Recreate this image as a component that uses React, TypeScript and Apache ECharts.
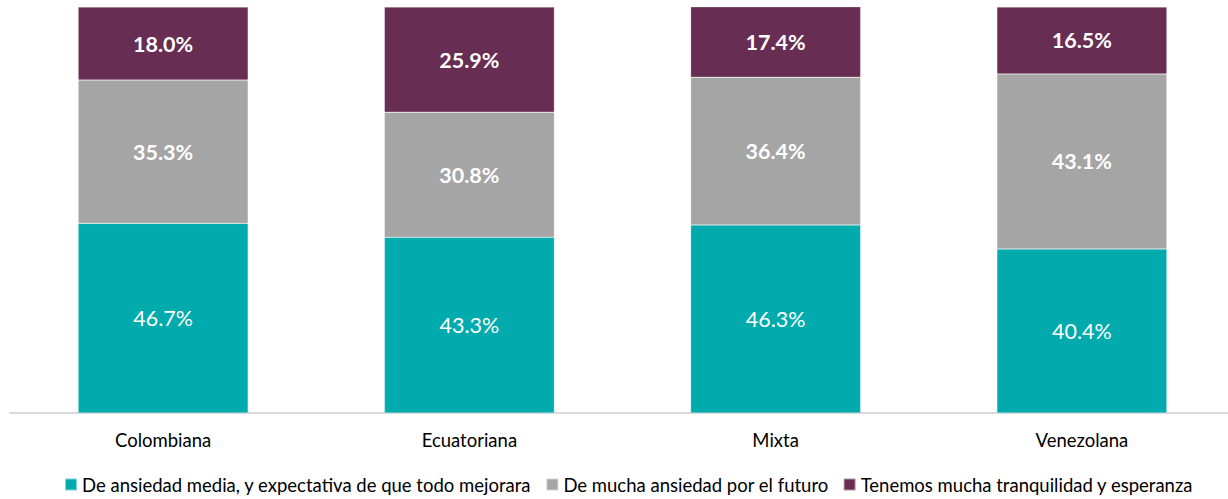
import React, { useEffect, useRef } from "react";
import * as echarts from "echarts";

const categories = ["Colombiana", "Ecuatoriana", "Mixta", "Venezolana"];
const seriesNames = [
  "De ansiedad media, y expectativa de que todo mejorara",
  "De mucha ansiedad por el futuro",
  "Tenemos mucha tranquilidad y esperanza",
];
const mediaValues = [46.7, 43.3, 46.3, 40.4];
const muchaValues = [35.3, 30.8, 36.4, 43.1];
const tranquilValues = [18.0, 25.9, 17.4, 16.5];
const colors = ["#00AAAD", "#A5A5A5", "#672D53"];

const FONT = "Lato";

export default function App() {
  const ref = useRef<HTMLDivElement>(null);
  useEffect(() => {
    if (!ref.current) return;
    const chart = echarts.init(ref.current, undefined, { renderer: "svg" });
    const mk = (name: string, data: number[], color: string, bold: boolean) => ({
      name,
      type: "bar",
      stack: "total",
      data,
      barWidth: 170,
      itemStyle: { color, borderColor: "rgba(255,255,255,0.5)", borderWidth: 0.5 },
      label: {
        show: true,
        position: "inside",
        color: "#ffffff",
        fontFamily: FONT,
        fontSize: 21.5,
        fontWeight: bold ? "bold" : "normal",
        formatter: (p: any) => p.value.toFixed(1) + "%",
      },
    });
    chart.setOption({
      animation: false,
      grid: {
        left: 10,
        width: 1225,
        top: 7,
        bottom: 86,
        containLabel: false,
        outerBoundsMode: "none",
      },
      legend: {
        bottom: 0,
        left: 59,
        itemWidth: 12,
        itemHeight: 12,
        itemGap: 14,
        icon: "rect",
        textStyle: { fontFamily: FONT, fontSize: 18.5, color: "#000" },
        data: seriesNames,
      },
      xAxis: {
        type: "category",
        data: categories,
        axisLine: { lineStyle: { color: "#D9D9D9", width: 2 } },
        axisTick: { show: false },
        axisLabel: { fontFamily: FONT, fontSize: 18.5, color: "#000", margin: 17 },
      },
      yAxis: { type: "value", min: 0, max: 100, show: false, splitLine: { show: false } },
      series: [
        mk(seriesNames[0], mediaValues, colors[0], false),
        mk(seriesNames[1], muchaValues, colors[1], true),
        mk(seriesNames[2], tranquilValues, colors[2], true),
      ],
    });
    return () => chart.dispose();
  }, []);
  return (
    <div
      ref={ref}
      style={{ position: "absolute", left: 0, top: 0, width: 1228, height: 499 }}
    />
  );
}
